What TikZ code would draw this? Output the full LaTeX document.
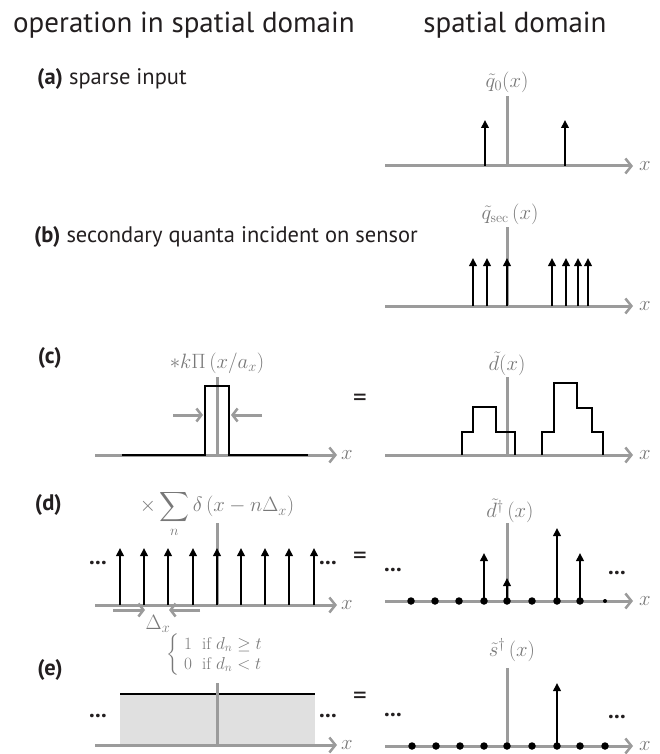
\documentclass[tikz,border=0pt]{standalone}
\usepackage{fontspec}
\usepackage{amsmath}
\usetikzlibrary{arrows.meta}
\newfontfamily\lab{PT Sans}
\definecolor{axgray}{RGB}{155,155,155}
\definecolor{labgray}{RGB}{120,120,120}
\definecolor{fillgray}{RGB}{224,224,224}
\definecolor{txt}{RGB}{35,31,32}
\tikzset{
 ax/.style={draw=axgray, line width=3pt, -{Straight Barb[length=6pt,width=15pt,line width=2.5pt]}},
 vl/.style={draw=axgray, line width=3pt},
 garr/.style={draw=axgray, line width=3pt, -{Straight Barb[length=5pt,width=13pt,line width=2.5pt]}},
 stem/.style={draw=black, line width=2.5pt, -{Triangle[length=8pt,width=7.5pt]}},
 blk/.style={draw=black, line width=2.4pt},
 mlab/.style={text=labgray, font=\fontsize{20}{24}\selectfont, inner sep=0pt},
 xlab/.style={text=labgray, font=\fontsize{20}{24}\selectfont, inner sep=0pt},
 hdr/.style={text=txt, font=\lab\fontsize{29}{34}\selectfont, inner sep=0pt},
 plab/.style={text=txt, font=\lab\fontsize{22.5}{27}\selectfont, inner sep=0pt},
 eqs/.style={text=txt, font=\lab\fontsize{27}{30}\selectfont, inner sep=0pt},
 ell/.style={text=txt, font=\lab\bfseries\fontsize{23}{26}\selectfont, inner sep=0pt},
 dotn/.style={circle, fill=black, inner sep=0pt, minimum size=7.5pt},
 sdot/.style={circle, fill=black, inner sep=0pt, minimum size=4pt},
}
\begin{document}
\begin{tikzpicture}[x=1pt,y=-1pt]
\useasboundingbox (0,0) rectangle (659,754);
% headers
\node[hdr, anchor=base west] (h1) at (13,33) {operation in spatial domain};
\node[hdr, anchor=base] (h2) at (515,33) {spatial domain};
% row labels
\node[plab, anchor=base west] (la) at (37,85) {\textbf{(a)} sparse input};
\node[plab, anchor=base east] (lb) at (418,242) {\textbf{(b)} secondary quanta incident on sensor};
\node[plab, anchor=east] (lc) at (62,358) {\textbf{(c)}};
\node[plab, anchor=east] (ld) at (62,505) {\textbf{(d)}};
\node[plab, anchor=east] (le) at (63,670) {\textbf{(e)}};

% ---------- (a) right
\coordinate (a0) at (385,166); \coordinate (a1) at (633,166);
\draw[ax] (a0) -- (a1);
\node[xlab] (ax1) at (645,166) {$x$};
\coordinate (av) at (507,96);
\draw[vl] (507,166) -- (av);
\node[mlab] (aq) at (507,82) {$\tilde q_0(x)$};
\foreach \x in {485,565} \draw[stem] (\x,166) -- (\x,120);

% ---------- (b) right
\draw[ax] (385,306) -- (633,306);
\node[xlab] (bx1) at (645,306) {$x$};
\draw[vl] (507,306) -- (507,227);
\node[mlab] (bq) at (510,214) {$\tilde q_{\mathrm{sec}}\left(x\right)$};
\foreach \x in {473,487,507,552,566,578,588} \draw[stem] (\x,306) -- (\x,258);

% ---------- (c) left
\draw[ax] (95,455) -- (337,455);
\node[xlab] (cx0) at (347,455) {$x$};
\draw[vl] (217,455) -- (217,377);
\draw[blk] (122,455) -- (205,455) -- (205,386) -- (229,386) -- (229,455) -- (308,455);
\draw[garr] (173,415) -- (203,415);
\draw[garr] (262,415) -- (231,415);
\node[mlab] (ck) at (217,363) {$*k\Pi\left(x/a_x\right)$};
\node[eqs] (ceq) at (360,400) {=};
% ---------- (c) right
\draw[ax] (385,455) -- (633,455);
\node[xlab] (cx1) at (645,455) {$x$};
\draw[vl] (507,455) -- (507,377);
\node[mlab] (cd) at (507,364) {$\tilde d(x)$};
\draw[blk] (462,455) -- (462,432) -- (473,432) -- (473,407) -- (496,407) -- (496,432) -- (515,432) -- (515,455);
\draw[blk] (542,455) -- (542,432) -- (554,432) -- (554,383) -- (577,383) -- (577,408) -- (592,408) -- (592,432) -- (603,432) -- (603,455);

% ---------- (d) left
\draw[ax] (95,605) -- (337,605);
\node[xlab] (dx0) at (347,605) {$x$};
\draw[vl] (217,605) -- (217,523);
\foreach \x in {120,144,168,193,217,241,265,289,314} \draw[stem] (\x,605) -- (\x,548);
\node[mlab, anchor=north] (ds) at (217,490) {$\times\displaystyle\sum_n\delta\left(x-n\Delta_x\right)$};
\node[ell] (dl0) at (98,563) {...};
\node[ell] (dr0) at (328,563) {...};
\draw[garr] (113,610) -- (145,610);
\draw[garr] (200,610) -- (169,610);
\node[mlab, text=labgray] (dlt) at (158,624) {$\Delta_x$};
\node[eqs] (deq) at (360,558) {=};
% ---------- (d) right
\draw[ax] (385,601) -- (633,601);
\node[xlab] (dx1) at (645,601) {$x$};
\draw[vl] (507,601) -- (507,523);
\node[mlab] (dd) at (510,511) {$\tilde d^{\dagger}\left(x\right)$};
\foreach \x in {411,435,459,484,507,532,557,580} \node[dotn] at (\x,601) {};
\node[sdot] at (605,601) {};
\draw[stem] (484,601) -- (484,553);
\draw[stem] (507,601) -- (507,578);
\draw[stem] (557,601) -- (557,528);
\draw[stem] (580,601) -- (580,553);
\node[ell] (dl1) at (393,570) {...};
\node[ell] (dr1) at (617,573) {...};

% ---------- (e) left
\fill[fillgray] (120,694) rectangle (315,745);
\draw[draw=black, line width=1.5pt] (120,694) -- (315,694);
\draw[ax] (95,745) -- (337,745);
\node[xlab] (ex0) at (347,745) {$x$};
\draw[vl] (217,745) -- (217,683);
\node[mlab, font=\fontsize{17}{20}\selectfont] (ep) at (217,655) {$\left\{\begin{array}{ll}1 & \text{if } d_n\geq t\\ 0 & \text{if } d_n< t\end{array}\right.$};
\node[ell] (el0) at (98,716) {...};
\node[ell] (er0) at (328,716) {...};
\node[eqs] (eeq) at (360,698) {=};
% ---------- (e) right
\draw[ax] (385,746) -- (633,746);
\node[xlab] (ex1) at (645,746) {$x$};
\draw[vl] (507,746) -- (507,668);
\node[mlab] (es) at (512,650) {$\tilde s^{\dagger}\left(x\right)$};
\foreach \x in {412,436,460,484,507,532,557,580,605} \node[dotn] at (\x,746) {};
\draw[stem] (557,746) -- (557,683);
\node[ell] (el1) at (393,715) {...};
\node[ell] (er1) at (617,717) {...};
\end{tikzpicture}
\end{document}
